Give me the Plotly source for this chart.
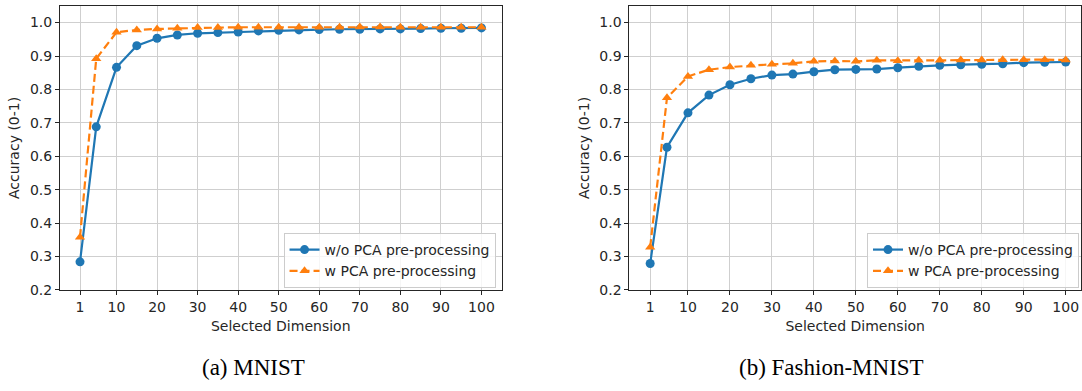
import plotly.graph_objects as go

dims = [1, 5, 10, 15, 20, 25, 30, 35, 40, 45, 50, 55, 60, 65, 70, 75, 80, 85, 90, 95, 100]

mnist_wo = [0.284, 0.688, 0.866, 0.931, 0.953, 0.963, 0.968, 0.970, 0.972, 0.975, 0.977,
            0.978, 0.979, 0.980, 0.980, 0.981, 0.981, 0.982, 0.983, 0.983, 0.984]
mnist_w = [0.358, 0.892, 0.971, 0.978, 0.981, 0.983, 0.985, 0.985, 0.986, 0.986, 0.986,
           0.986, 0.986, 0.986, 0.987, 0.987, 0.986, 0.986, 0.986, 0.986, 0.986]

fashion_wo = [0.279, 0.627, 0.730, 0.783, 0.814, 0.832, 0.843, 0.846, 0.853, 0.859, 0.860,
              0.861, 0.865, 0.869, 0.872, 0.874, 0.875, 0.877, 0.880, 0.881, 0.882]
fashion_w = [0.328, 0.775, 0.839, 0.859, 0.867, 0.872, 0.875, 0.878, 0.884, 0.885, 0.884,
             0.887, 0.886, 0.887, 0.887, 0.888, 0.888, 0.889, 0.889, 0.889, 0.888]

x_ticks = [1, 10, 20, 30, 40, 50, 60, 70, 80, 90, 100]
y_ticks = [0.2, 0.3, 0.4, 0.5, 0.6, 0.7, 0.8, 0.9, 1.0]

series_names = ["w/o PCA pre-processing", "w PCA pre-processing"]
captions = ["(a) MNIST", "(b) Fashion-MNIST"]

BLUE = "#1f77b4"
ORANGE = "#ff7f0e"
W, H = 1082, 391

fig = go.Figure()

panels = [(mnist_wo, mnist_w, "x", "y", "legend"), (fashion_wo, fashion_w, "x2", "y2", "legend2")]
for wo, w, xa, ya, lg in panels:
    fig.add_trace(go.Scatter(
        x=dims, y=wo, name=series_names[0], mode="lines+markers",
        line=dict(color=BLUE, width=2.2), marker=dict(symbol="circle", size=9, color=BLUE),
        xaxis=xa, yaxis=ya, legend=lg))
    fig.add_trace(go.Scatter(
        x=dims, y=w, name=series_names[1], mode="lines+markers",
        line=dict(color=ORANGE, width=2.2, dash="8px,4px"),
        marker=dict(symbol="triangle-up", size=9, color=ORANGE),
        xaxis=xa, yaxis=ya, legend=lg))

tick_font = dict(family="DejaVu Sans", size=14, color="#262626")
y_dom = [1 - 296 / H, 1 - 6 / H]

def xaxis(domain, rng, anchor):
    return dict(domain=domain, range=rng, anchor=anchor, tickmode="array", tickvals=x_ticks,
                ticks="outside", ticklen=4, tickcolor="#262626", showline=True, linecolor="#262626",
                linewidth=1, mirror=True, showgrid=True, gridcolor="#cfcfcf", gridwidth=1,
                zeroline=False, tickfont=tick_font,
                title=dict(text="Selected Dimension", font=tick_font, standoff=7))

def yaxis(anchor):
    return dict(domain=y_dom, range=[0.2, 1.05], anchor=anchor, tickmode="array", tickvals=y_ticks,
                tickformat=".1f", ticks="outside", ticklen=4, tickcolor="#262626", showline=True,
                linecolor="#262626", linewidth=1, mirror=True, showgrid=True, gridcolor="#cfcfcf",
                gridwidth=1, zeroline=False, tickfont=tick_font,
                title=dict(text="Accuracy (0-1)", font=tick_font, standoff=6))

legend_common = dict(bgcolor="rgba(255,255,255,0.8)", bordercolor="#cccccc", borderwidth=1,
                     font=dict(family="DejaVu Sans", size=14, color="#262626"),
                     xanchor="right", yanchor="bottom", tracegroupgap=0, itemwidth=30)

fig.update_layout(
    width=W, height=H, margin=dict(l=0, r=0, t=0, b=0),
    paper_bgcolor="white", plot_bgcolor="white",
    xaxis=xaxis([60 / W, 502 / W], [-3.95, 104.95], "y"),
    yaxis=yaxis("x"),
    xaxis2=xaxis([630 / W, 1.0], [-3.95, 103.65], "y2"),
    yaxis2=yaxis("x2"),
    legend=dict(x=496 / W, y=1 - 294 / H, **legend_common),
    legend2=dict(x=1080 / W, y=1 - 294 / H, **legend_common),
    annotations=[
        dict(text=captions[0], x=254 / W, y=1 - 375 / H, xref="paper", yref="paper",
             showarrow=False, font=dict(family="Liberation Serif", size=23, color="black"),
             xanchor="center", yanchor="middle"),
        dict(text=captions[1], x=832 / W, y=1 - 375 / H, xref="paper", yref="paper",
             showarrow=False, font=dict(family="Liberation Serif", size=23, color="black"),
             xanchor="center", yanchor="middle"),
    ],
)

fig.write_html("out.html")
